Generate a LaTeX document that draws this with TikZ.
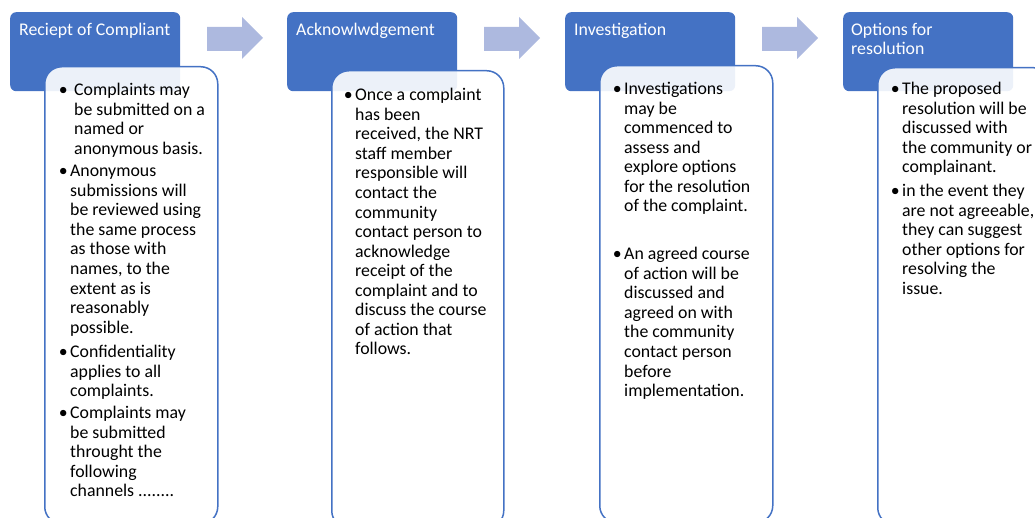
\documentclass[tikz,border=0pt]{standalone}
\usepackage{fontspec}
\setmainfont{Carlito}
\definecolor{hdr}{HTML}{4472C4}
\definecolor{arr}{HTML}{ADB9DF}
\newcommand{\bul}{\rule{0pt}{14pt}\llap{\textbullet\hspace{2.5pt}}}
\newcommand{\tstrut}{\rule{0pt}{14pt}}
\begin{document}
\begin{tikzpicture}[x=1pt,y=-1pt,
 hdrbox/.style={fill=hdr, rounded corners=6pt, anchor=north west, inner sep=0, minimum width=170pt, minimum height=79pt},
 bodybox/.style={fill=white, fill opacity=0.9, draw=hdr, line width=1.5pt, rounded corners=17pt, anchor=north west, inner sep=0, minimum height=457pt},
 hdrtext/.style={anchor=north west, inner sep=0, text=white, font=\fontsize{17.8}{19.6}\selectfont, align=left},
 itemtext/.style={anchor=north west, inner sep=0, font=\fontsize{17.8}{19.55}\selectfont, align=left},
 blockarrow/.style={fill=arr}]
\useasboundingbox (0,0) rectangle (1035,518);
\clip (0,0) rectangle (1035,518);
% headers
\node (h1) [hdrbox] at (10,12) {};
\node (h2) [hdrbox] at (287,12) {};
\node (h3) [hdrbox] at (565,12) {};
\node (h4) [hdrbox] at (843,12) {};
% arrows
\foreach \dx in {0,277,555} {
  \fill[blockarrow] (207+\dx,27) -- (242+\dx,27) -- (242+\dx,17) -- (263+\dx,38) -- (242+\dx,59) -- (242+\dx,51) -- (207+\dx,51) -- cycle;
}
% bodies
\node (b1) [bodybox, minimum width=173pt] at (44,66) {};
\node (b2) [bodybox, minimum width=172pt] at (331,70) {};
\node (b3) [bodybox, minimum width=173pt] at (599,65) {};
\node (b4) [bodybox, minimum width=173pt] at (877,67) {};
% header texts
\node (t1) [hdrtext] at (19,21) {\tstrut Reciept of Compliant};
\node (t2) [hdrtext] at (296,21) {\tstrut Acknowlwdgement};
\node (t3) [hdrtext] at (574,21) {\tstrut Investigation};
\node (t4) [hdrtext] at (851,21) {\tstrut Options for\\resolution};
% body 1
\node (i11) [itemtext] at (70,81.5) {\bul\ Complaints may\\\phantom{\ }be submitted on a\\\phantom{\ }named or\\\phantom{\ }anonymous basis.};
\node (i12) [itemtext] at (70,162.5) {\bul Anonymous\\submissions will\\be reviewed using\\the same process\\as those with\\names, to the\\extent as is\\reasonably\\possible.};
\node (i13) [itemtext] at (70,343.5) {\bul Confidentiality\\applies to all\\complaints.};
\node (i14) [itemtext] at (70,404.5) {\bul Complaints may\\be submitted\\throught the\\following\\channels ........};
% body 2
\node (i21) [itemtext] at (355,86.5) {\bul Once a complaint\\has been\\received, the NRT\\staff member\\responsible will\\contact the\\community\\contact person to\\acknowledge\\receipt of the\\complaint and to\\discuss the course\\of action that\\follows.};
% body 3
\node (i31) [itemtext] at (624,80.5) {\bul Investigations\\may be\\commenced to\\assess and\\explore options\\for the resolution\\of the complaint.};
\node (i32) [itemtext] at (624,245.5) {\bul An agreed course\\of action will be\\discussed and\\agreed on with\\the community\\contact person\\before\\implementation.};
% body 4
\node (i41) [itemtext] at (902,80.5) {\bul The proposed\\resolution will be\\discussed with\\the community or\\complainant.};
\node (i42) [itemtext] at (902,182.5) {\bul in the event they\\are not agreeable,\\they can suggest\\other options for\\resolving the\\issue.};
\end{tikzpicture}
\end{document}
